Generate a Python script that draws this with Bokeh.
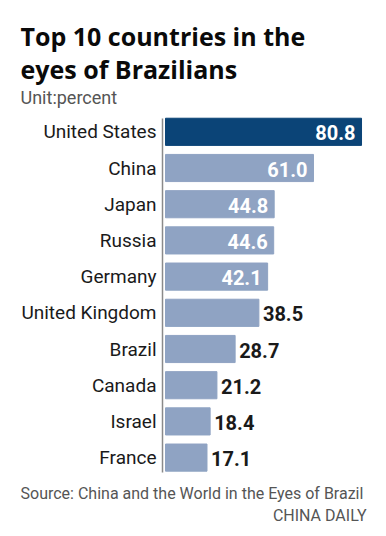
from bokeh.plotting import figure
from bokeh.models import ColumnDataSource, Range1d
from bokeh.core.properties import value
from bokeh.embed import file_html
from bokeh.resources import INLINE

countries = ["United States", "China", "Japan", "Russia", "Germany",
             "United Kingdom", "Brazil", "Canada", "Israel", "France"]
values = [80.8, 61.0, 44.8, 44.6, 42.1, 38.5, 28.7, 21.2, 18.4, 17.1]
labels = ["80.8", "61.0", "44.8", "44.6", "42.1", "38.5", "28.7", "21.2", "18.4", "17.1"]
highlight = "United States"

title_lines = ["Top 10 countries in the", "eyes of Brazilians"]
unit_text = "Unit:percent"
source_text = "Source: China and the World in the Eyes of Brazil"
credit_text = "CHINA DAILY"

DARK = "#0b4477"
LIGHT = "#8fa3c3"
TXT = "#1a1a1a"
GREY = "#555555"
FONT = "Roboto"
TITLE_FONT = "Open Sans"

W, H = 384, 534
X0_PX = 165.0          # pixel of value 0
PX_PER_UNIT = 2.426    # horizontal scale
ROW0_PX = 131.3        # centre of first row
ROW_PX = 36.2          # row spacing

rank = list(range(len(countries)))
colors = [DARK if c == highlight else LIGHT for c in countries]
src = ColumnDataSource(dict(rank=rank, country=countries, value=values,
                            label=labels, color=colors))

inside = [i for i, v in enumerate(values) if v > 40]
outside = [i for i, v in enumerate(values) if v <= 40]
src_in = ColumnDataSource(dict(rank=[rank[i] for i in inside],
                               value=[values[i] for i in inside],
                               label=[labels[i] for i in inside]))
src_out = ColumnDataSource(dict(rank=[rank[i] for i in outside],
                                value=[values[i] for i in outside],
                                label=[labels[i] for i in outside]))

x_range = Range1d(-X0_PX / PX_PER_UNIT, (W - X0_PX) / PX_PER_UNIT)
y_range = Range1d((H - ROW0_PX) / ROW_PX, -ROW0_PX / ROW_PX)

p = figure(width=W, height=H, output_backend="svg", toolbar_location=None,
           x_range=x_range, y_range=y_range, min_border=0)
p.outline_line_color = None
p.grid.visible = False
p.axis.visible = False
p.background_fill_color = "white"
p.border_fill_color = "white"

# vertical axis line
p.segment(x0=-3 / PX_PER_UNIT, x1=-3 / PX_PER_UNIT, y0=-0.37, y1=9.41,
          line_color="#8a8a8a", line_width=1.5)

p.hbar(y="rank", right="value", left=0, height=0.75, color="color", source=src)

# category labels
p.text(x=0, y="rank", text="country", source=src, x_offset=-9,
       text_align="right", text_baseline="middle", text_color=TXT,
       text_font=value(FONT), text_font_size="19px")

# value labels
p.text(x="value", y="rank", text="label", source=src_in, x_offset=-6, y_offset=1,
       text_align="right", text_baseline="middle", text_color="white",
       text_font=value(FONT), text_font_style="bold", text_font_size="20px")
p.text(x="value", y="rank", text="label", source=src_out, x_offset=4, y_offset=1,
       text_align="left", text_baseline="middle", text_color=TXT,
       text_font=value(FONT), text_font_style="bold", text_font_size="20px")

def lab(text, px, py, size, style="normal", color=TXT, align="left", font=FONT):
    # px, py: pixel position (text middle) from the top-left of the canvas
    p.text(x=[x_range.start], y=[y_range.end], text=[text], x_offset=px, y_offset=py,
           text_font=value(font), text_font_size=size, text_font_style=style,
           text_color=color, text_align=align, text_baseline="middle")

lab(title_lines[0], 20, 35, "25px", "bold", "#0a0a0a", font=TITLE_FONT)
lab(title_lines[1], 20, 68.5, "25px", "bold", "#0a0a0a", font=TITLE_FONT)
lab(unit_text, 20, 96.5, "18px", "normal", GREY)
lab(source_text, 20, 493, "16px", "normal", GREY)
lab(credit_text, 366, 514.5, "16px", "normal", GREY, "right")

open("out.html", "w").write(file_html(p, INLINE))
